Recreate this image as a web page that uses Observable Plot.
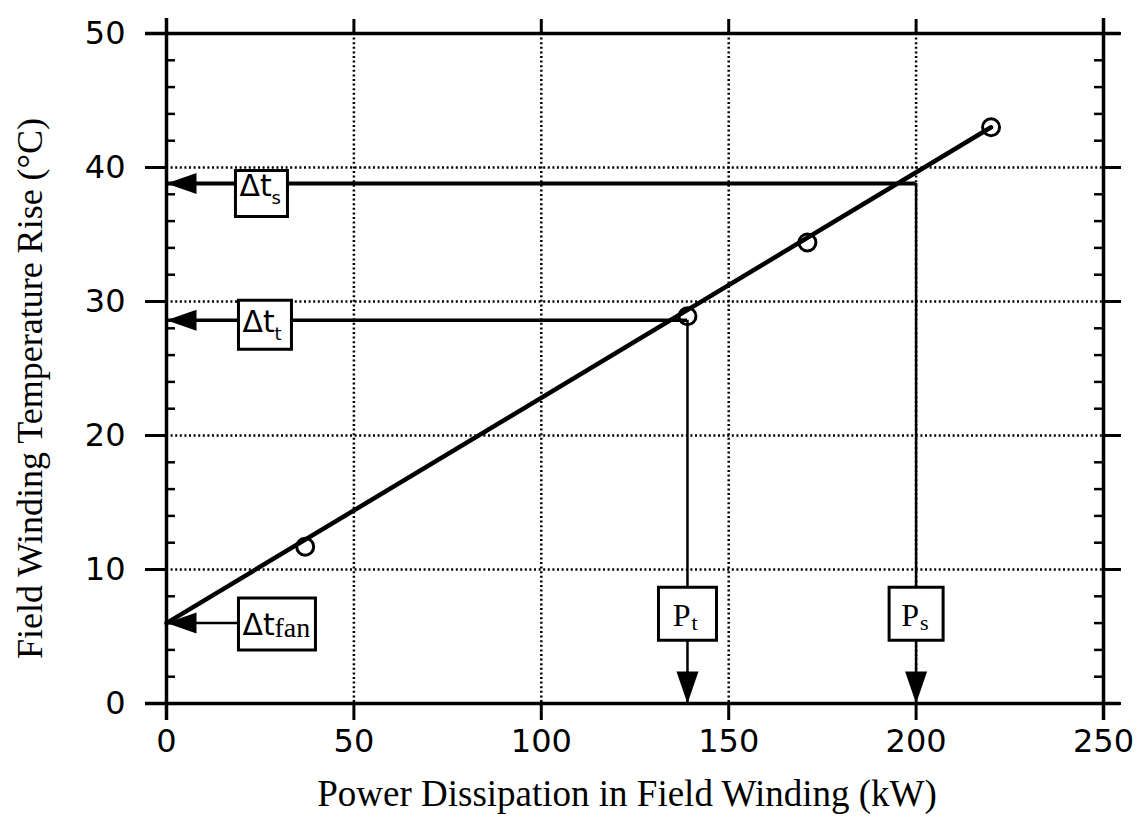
<!DOCTYPE html>
<html>
<head>
<meta charset="utf-8">
<script src="https://cdn.jsdelivr.net/npm/d3@7"></script>
<script src="https://cdn.jsdelivr.net/npm/@observablehq/plot@0.6"></script>
<style>
  html, body { margin: 0; padding: 0; background: #fff; }
</style>
</head>
<body>
<div id="chart"></div>
<script>
// ---------- data ----------
const xTicks = [0, 50, 100, 150, 200, 250];
const yTicks = [0, 10, 20, 30, 40, 50];
const xGrid = [50, 100, 150, 200];
const yGrid = [10, 20, 30, 40];
const yMinor = [2, 4, 6, 8, 12, 14, 16, 18, 22, 24, 26, 28, 32, 34, 36, 38, 42, 44, 46, 48];

// measured points (power kW, temperature rise °C)
const pointX = [37, 139, 171, 220];
const pointY = [11.7, 28.9, 34.4, 43.0];

// straight-line fit drawn through the points
const fitX = [0, 220];
const fitY = [6.0, 43.0];

// horizontal read-off arrows (Δt labels)
const dtNames = ["s", "t", "fan"];
const dtLevels = [38.8, 28.6, 6.0];
const dtFrom = [200, 139, 19];
const dtBoxX = [18.4, 19.2, 19.2];

// vertical read-off arrows (P labels)
const pNames = ["t", "s"];
const pX = [139, 200];
const pFrom = [28.6, 38.8];
const pBoxY = 6.7;

const xTitle = "Power Dissipation in Field Winding (kW)";
const yTitle = "Field Winding Temperature Rise (°C)";

// ---------- tables ----------
const points = pointX.map((x, i) => ({x, y: pointY[i]}));
const fit = fitX.map((x, i) => ({x, y: fitY[i]}));
const dtTable = dtNames.map((name, i) => ({name, level: dtLevels[i], from: dtFrom[i], to: xTicks[0], boxX: dtBoxX[i]}));
const pTable = pNames.map((name, i) => ({name, x: pX[i], from: pFrom[i], to: yTicks[0], boxY: pBoxY}));

// ---------- layout / style ----------
const W = 1143, H = 825;
const mL = 166, mR = 40, mT = 33, mB = 122;
const frameW = W - mL - mR;
const SANS = "DejaVu Sans";
const SERIF = "Liberation Serif";

const dtStyle = [
  {w: 52, h: 46, boxDy: 10, lw: 4,   subSize: 18, subFont: SANS,  subDy: 20},
  {w: 53, h: 49, boxDy: 4.5, lw: 3.5, subSize: 18, subFont: SANS,  subDy: 20},
  {w: 77, h: 52, boxDy: 1,  lw: 2.5, subSize: 28, subFont: SERIF, subDy: 14}
];
const pStyle = [{w: 58, h: 53}, {w: 54, h: 53}];

// custom symbols
const triLeft = {draw(c) { c.moveTo(0, 0); c.lineTo(30, -10.5); c.lineTo(30, 10.5); c.closePath(); }};
const triDown = {draw(c) { c.moveTo(0, 0); c.lineTo(-11, -32); c.lineTo(11, -32); c.closePath(); }};
const boxLeft = (w, h) => ({draw(c) { c.rect(0, -h / 2, w, h); }});
const boxCenter = (w, h) => ({draw(c) { c.rect(-w / 2, -h / 2, w, h); }});

const gridStyle = {stroke: "#000", strokeWidth: 2.5, strokeDasharray: "2,2.6"};

const marks = [
  // dotted grid
  Plot.ruleX(xGrid, gridStyle),
  Plot.ruleY(yGrid, gridStyle),
  // solid frame lines extending past the frame
  Plot.ruleY([yTicks[0], yTicks[yTicks.length - 1]], {stroke: "#000", strokeWidth: 3.5, insetLeft: -21, insetRight: -17}),
  Plot.ruleX([xTicks[0], xTicks[xTicks.length - 1]], {stroke: "#000", strokeWidth: 3.5, insetTop: -15, insetBottom: -17}),
  // axis ticks and labels
  Plot.axisX({ticks: xTicks, anchor: "bottom", tickSize: 17, tickPadding: 9, strokeWidth: 3, fontSize: 32, fontFamily: SANS, label: null}),
  Plot.axisX({ticks: xTicks, anchor: "top", tickSize: 15, strokeWidth: 3, tickFormat: () => "", label: null}),
  Plot.axisY({ticks: yTicks, anchor: "left", tickSize: 21, tickPadding: 20, strokeWidth: 3, fontSize: 32, fontFamily: SANS, label: null}),
  Plot.axisY({ticks: yTicks, anchor: "right", tickSize: 17, strokeWidth: 3, tickFormat: () => "", label: null}),
  // minor ticks (inside, left and right)
  Plot.tickY(yMinor, {y: d => d, insetRight: frameW - 9, stroke: "#000", strokeWidth: 2.5}),
  Plot.tickY(yMinor, {y: d => d, insetLeft: frameW - 9, stroke: "#000", strokeWidth: 2.5}),
  // read-off arrow shafts
  ...dtTable.map((d, i) => Plot.ruleY([d], {y: "level", x1: "from", x2: "to", stroke: "#000", strokeWidth: dtStyle[i].lw})),
  Plot.ruleX(pTable, {x: "x", y1: "from", y2: "to", stroke: "#000", strokeWidth: 2.5}),
  // fitted line
  Plot.line(fit, {x: "x", y: "y", stroke: "#000", strokeWidth: 4.5}),
  // measured points
  Plot.dot(points, {x: "x", y: "y", r: 8.5, stroke: "#000", strokeWidth: 3, fill: "none"}),
  // arrow heads
  Plot.dot(dtTable, {x: "to", y: "level", symbol: triLeft, fill: "#000", stroke: "none"}),
  Plot.dot(pTable, {x: "x", y: "to", symbol: triDown, fill: "#000", stroke: "none"}),
  // label boxes
  ...dtTable.map((d, i) => Plot.dot([d], {x: "boxX", y: "level", symbol: boxLeft(dtStyle[i].w, dtStyle[i].h), dy: dtStyle[i].boxDy, fill: "#fff", stroke: "#000", strokeWidth: 3})),
  ...pTable.map((d, i) => Plot.dot([d], {x: "x", y: "boxY", symbol: boxCenter(pStyle[i].w, pStyle[i].h), fill: "#fff", stroke: "#000", strokeWidth: 3})),
  // label texts
  Plot.text(dtTable, {x: "boxX", y: "level", text: () => "Δt", textAnchor: "start", lineAnchor: "bottom", dx: 4, dy: 12, fontSize: 30, fontFamily: SANS, fill: "#000"}),
  ...dtTable.map((d, i) => Plot.text([d], {x: "boxX", y: "level", text: "name", textAnchor: "start", lineAnchor: "bottom", dx: 36, dy: dtStyle[i].subDy, fontSize: dtStyle[i].subSize, fontFamily: dtStyle[i].subFont, fill: "#000"})),
  Plot.text(pTable, {x: "x", y: "boxY", text: () => "P", textAnchor: "end", lineAnchor: "bottom", dx: 3, dy: 12, fontSize: 32, fontFamily: SERIF, fill: "#000"}),
  Plot.text(pTable, {x: "x", y: "boxY", text: "name", textAnchor: "start", lineAnchor: "bottom", dx: 4, dy: 16, fontSize: 22, fontFamily: SERIF, fill: "#000"}),
  // axis titles
  Plot.text([xTitle], {frameAnchor: "bottom", textAnchor: "middle", lineAnchor: "middle", dx: -8, dy: 91, fontSize: 37, fontFamily: SERIF, fill: "#000"}),
  Plot.text([yTitle], {frameAnchor: "left", textAnchor: "middle", lineAnchor: "middle", rotate: -90, dx: -136, dy: 20, fontSize: 36, fontFamily: SERIF, fill: "#000"})
];

const chart = Plot.plot({
  width: W,
  height: H,
  marginLeft: mL,
  marginRight: mR,
  marginTop: mT,
  marginBottom: mB,
  x: {domain: [xTicks[0], xTicks[xTicks.length - 1]], label: null, axis: null},
  y: {domain: [yTicks[0], yTicks[yTicks.length - 1]], label: null, axis: null},
  style: {background: "#fff", color: "#000", fontFamily: SANS, overflow: "visible"},
  marks
});
document.getElementById("chart").appendChild(chart);
</script>
</body>
</html>
